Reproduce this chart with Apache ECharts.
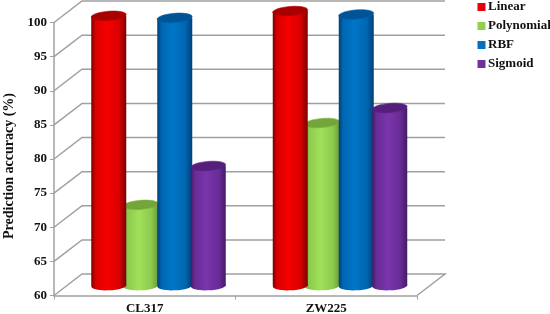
<!DOCTYPE html>
<html><head><meta charset="utf-8">
<style>html,body{margin:0;padding:0;background:#fff}#c{width:550px;height:314px}</style>
<script src="https://cdn.jsdelivr.net/npm/echarts@6/dist/echarts.min.js"></script>
</head><body><div id="c"></div>
<script>
var categories = ['CL317', 'ZW225'];
var linear = [99.4, 100.1];
var polynomial = [71.7, 83.7];
var rbf = [99.1, 99.6];
var sigmoid = [77.4, 85.9];
var yTicks = [60, 65, 70, 75, 80, 85, 90, 95, 100];

var DX = 28, DY = 21.5;
var chart = echarts.init(document.getElementById('c'), null, {renderer: 'canvas'});
var G = echarts.graphic;
var font = '"Liberation Serif","Times New Roman",serif';

function cylinder(offset, side, mid, edge, top, rim) {
  return function (params, api) {
    var p = api.coord([api.value(0), api.value(1)]);
    var b = api.coord([api.value(0), 60]);
    var rx = 17.5, ry = 4.6;
    var cx = p[0] + DX / 2 + offset, ty = p[1] - DY / 2, by = b[1] - DY / 2 + 1;
    var grad = new G.LinearGradient(0, 0, 1, 0, [
      {offset: 0, color: side}, {offset: 0.12, color: edge}, {offset: 0.45, color: mid},
      {offset: 0.8, color: edge}, {offset: 1, color: side}]);
    return {type: 'group', children: [
      {type: 'ellipse', shape: {cx: cx, cy: by, rx: rx, ry: ry}, rotation: 0.05, originX: cx, originY: by, style: {fill: grad}},
      {type: 'rect', shape: {x: cx - rx, y: ty, width: rx * 2, height: by - ty}, style: {fill: grad}},
      {type: 'ellipse', shape: {cx: cx, cy: ty, rx: rx, ry: ry}, rotation: 0.08, originX: cx, originY: ty, style: {fill: top, stroke: rim, lineWidth: 0.6}}
    ]};
  };
}

function cylSeries(name, values, offset, z, legendColor, side, mid, edge, top, rim) {
  return {
    name: name, type: 'custom', z: z, clip: false,
    itemStyle: {color: legendColor, borderColor: legendColor},
    encode: {x: 0, y: 1},
    data: categories.map(function (c, i) { return [i, values[i]]; }),
    renderItem: cylinder(offset, side, mid, edge, top, rim)
  };
}

var wall = {
  type: 'custom', z: 1, clip: false, silent: true, legendHoverLink: false,
  encode: {y: 0},
  data: yTicks.map(function (t) { return [t]; }),
  renderItem: function (params, api) {
    var v = api.value(0);
    var a = api.coord([0, v]);
    var x0 = params.coordSys.x, x1 = x0 + params.coordSys.width;
    var y = a[1];
    var pts = [[x0, y], [x0 + DX, y - DY], [x1 + DX, y - DY]];
    if (v === 60) pts.push([x1, y]);
    return {type: 'polyline', shape: {points: pts}, style: {fill: null, stroke: '#a0a0a0', lineWidth: 1.5}};
  }
};

chart.setOption({
  animation: false,
  backgroundColor: '#fff',
  grid: {left: 54, top: 22.5, width: 363, height: 273, outerBoundsMode: 'none'},
  legend: {
    orient: 'vertical', left: 477.5, top: 0.5, padding: 0, itemWidth: 3, itemHeight: 3, itemGap: 6,
    icon: 'rect',
    itemStyle: {borderColor: 'inherit', borderWidth: 5},
    data: ['Linear', 'Polynomial', 'RBF', 'Sigmoid'],
    textStyle: {fontFamily: font, fontWeight: 'bold', fontSize: 13, color: '#111'}
  },
  xAxis: {
    type: 'category', data: categories, boundaryGap: true,
    axisLine: {lineStyle: {color: '#a0a0a0', width: 1.5}},
    axisTick: {show: true, length: 4, lineStyle: {color: '#a0a0a0', width: 1}},
    axisLabel: {fontFamily: font, fontWeight: 'bold', fontSize: 13, color: '#111', margin: 7}
  },
  yAxis: {
    type: 'value', min: 60, max: 100, interval: 5,
    name: 'Prediction accuracy (%)', nameLocation: 'middle', nameGap: 38,
    nameTextStyle: {fontFamily: font, fontWeight: 'bold', fontSize: 14, color: '#111', padding: [0, 14, 0, 0]},
    axisLine: {show: true, lineStyle: {color: '#a0a0a0', width: 1.5}},
    axisTick: {show: true, length: 4, lineStyle: {color: '#a0a0a0', width: 1}},
    splitLine: {show: false},
    axisLabel: {fontFamily: font, fontWeight: 'bold', fontSize: 13, color: '#111', margin: 7}
  },
  series: [
    wall,
    cylSeries('Linear', linear, -50, 3, '#e8000d', '#7a0000', '#f60000', '#d80000', '#a80000', '#b80000'),
    cylSeries('Polynomial', polynomial, -18, 2, '#92d050', '#6a9a3a', '#a0e05a', '#8ccb4c', '#74a53a', '#82b544'),
    cylSeries('RBF', rbf, 16, 4, '#0070c0', '#003f78', '#0076c8', '#0066b0', '#005496', '#0060a8'),
    cylSeries('Sigmoid', sigmoid, 49.5, 5, '#7030a0', '#451a66', '#7a35ac', '#682c96', '#54207c', '#5c2488')
  ]
});
</script></body></html>
